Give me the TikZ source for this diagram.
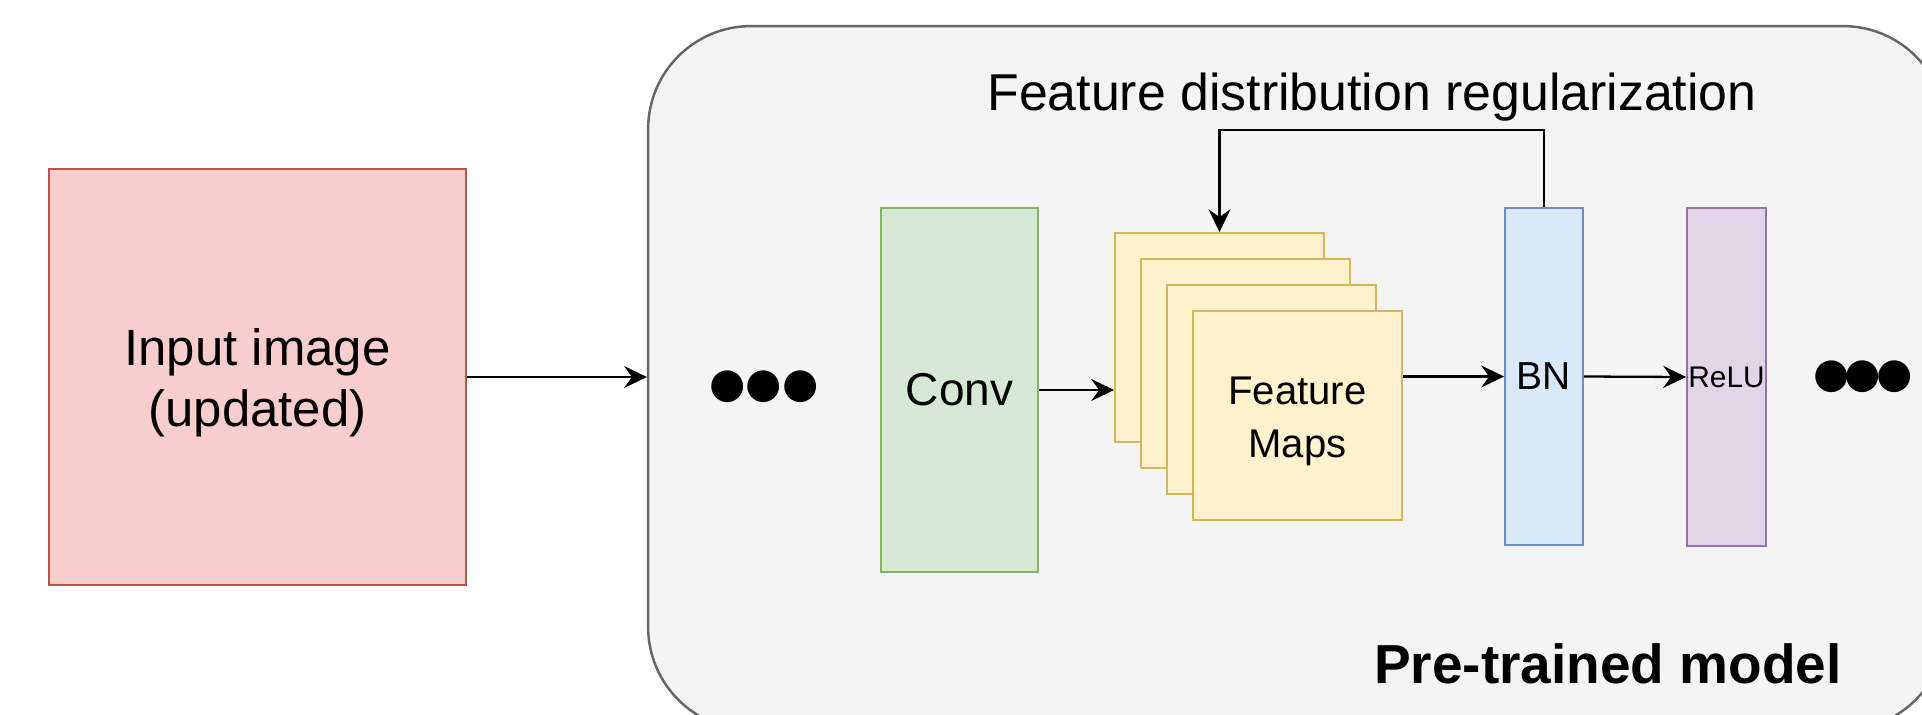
\documentclass[tikz,border=0pt]{standalone}
\usepackage{fontspec}
\setmainfont{Liberation Sans}
\newfontfamily\dotfont{DejaVu Sans}
\usetikzlibrary{positioning, calc, arrows.meta}
\definecolor{redfill}{HTML}{F8CECC}
\definecolor{redline}{HTML}{B85450}
\definecolor{greenfill}{HTML}{D5E8D4}
\definecolor{greenline}{HTML}{82B366}
\definecolor{yellowfill}{HTML}{FFF2CC}
\definecolor{yellowline}{HTML}{D6B656}
\definecolor{bluefill}{HTML}{DAE8FC}
\definecolor{blueline}{HTML}{6C8EBF}
\definecolor{purplefill}{HTML}{E1D5E7}
\definecolor{purpleline}{HTML}{9673A6}
\definecolor{greyfill}{HTML}{F4F4F4}
\definecolor{greyline}{HTML}{666666}
\tikzstyle{Arrow} = [
%Create custom arrow style:
line width = 1.3pt,
-{Stealth[length=13pt, width=12.5pt, inset=4.5pt]}
]

\begin{document}
\begin{tikzpicture}[x=0.02cm, y=-0.02cm,
                    block/.style = {rectangle, line width = 1.1pt, draw, text centered, inner sep = 0pt},
                    model/.style = {rectangle, line width = 1.4pt, draw = greyline, fill = greyfill, rounded corners = 2.06cm},
                    fmap/.style = {block, draw = yellowline, fill = yellowfill, minimum width = 4.18cm, minimum height = 4.18cm},
                    dots/.style = {font = \dotfont\fontsize{23.7}{26}\selectfont, inner sep = 0pt},
                   ]
    \useasboundingbox (0,0) rectangle (1922,714);

    \node[model, minimum width = 25.96cm, minimum height = 14.08cm](M) at (1297,378){};

    \node[block, draw = redline, fill = redfill, minimum width = 8.34cm, minimum height = 8.32cm,
          label = {[align = center, yshift = -3.4pt, font = \fontsize{29}{34.7}\selectfont]center:Input image\\(updated)}](IN) at (257.5,377){};

    \node[dots](DL) at (764,387){●●●};
    \node[block, draw = greenline, fill = greenfill, minimum width = 3.14cm, minimum height = 7.28cm,
          font = \fontsize{26.2}{30}\selectfont](CV) at (959.5,390){Conv};

    % stack of feature maps
    \node[fmap](F1) at (1219.5,337.5){};
    \node[fmap](F2) at (1245.5,363.5){};
    \node[fmap](F3) at (1271.5,389.5){};
    \node[fmap, label = {[align = center, yshift = -3.4pt, font = \fontsize{22.8}{30.2}\selectfont]center:Feature\\Maps}](F4) at (1297.5,415.5){};

    \node[block, draw = blueline, fill = bluefill, minimum width = 1.56cm, minimum height = 6.74cm,
          font = \fontsize{22.2}{26}\selectfont](BN) at (1544,376.5){BN};
    \node[block, draw = purpleline, fill = purplefill, minimum width = 1.58cm, minimum height = 6.76cm,
          font = \fontsize{17}{20}\selectfont](RL) at (1726.5,377){ReLU};
    \node[dots](DR) at (1863,377){●\kern-2.6pt●\kern-2.6pt●};

    \node[anchor = base, font = \fontsize{29.5}{35}\selectfont](FD) at (1372,110){Feature distribution regularization};
    \node[anchor = base, font = \bfseries\fontsize{31.3}{36}\selectfont](PT) at (1608,683){Pre-trained model};
    \coordinate(FB) at (1544,130);

    \draw[Arrow](IN.east)--(IN.east -| M.west);
    \draw[Arrow](CV.east)--(CV.east -| F1.west);
    \draw[Arrow](BN.west -| F4.east)--(BN.west);
    \draw[Arrow](BN.east)--(RL.west);
    \draw[Arrow](BN.north)--(FB)-|(F1.north);
\end{tikzpicture}
\end{document}
